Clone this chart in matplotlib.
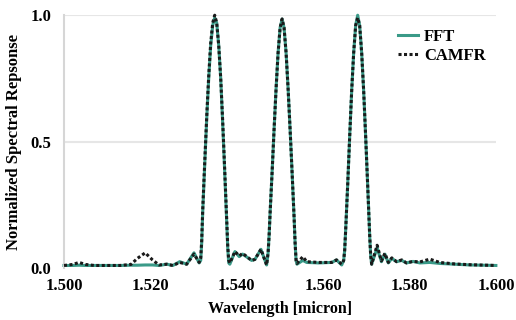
import matplotlib.pyplot as plt

# wavelength samples [micron]
wavelength = [
    1.5000, 1.5020, 1.5035, 1.5050, 1.5070, 1.5100, 1.5130, 1.5155, 1.5170, 1.5188,
    1.5205, 1.5220, 1.5238, 1.5252, 1.5268, 1.5284, 1.5301, 1.5313,
    1.53166, 1.53189, 1.53212, 1.53259, 1.53305, 1.53351, 1.53397, 1.53444, 1.53490,
    1.53536, 1.53583, 1.53629, 1.53675, 1.53721, 1.53768, 1.53791, 1.53814, 1.53840,
    1.53958, 1.54058, 1.54136, 1.54345, 1.54421, 1.54560, 1.54692,
    1.54726, 1.54750, 1.54773, 1.54819, 1.54865, 1.54911, 1.54957, 1.55004, 1.55050,
    1.55096, 1.55143, 1.55189, 1.55235, 1.55281, 1.55328, 1.55351, 1.55374, 1.55395,
    1.55530, 1.55620, 1.55900, 1.56200, 1.56310, 1.56430,
    1.56476, 1.56499, 1.56522, 1.56569, 1.56615, 1.56661, 1.56707, 1.56754, 1.56800,
    1.56846, 1.56893, 1.56939, 1.56985, 1.57031, 1.57078, 1.57101, 1.57124,
    1.57250, 1.57350, 1.57430, 1.57510, 1.57590, 1.57700, 1.57820, 1.57930, 1.58080,
    1.58240, 1.58470, 1.58700, 1.59050, 1.59400, 1.60000,
]

fft = [
    0.010, 0.010, 0.011, 0.010, 0.010, 0.010, 0.010, 0.011, 0.011, 0.012,
    0.012, 0.010, 0.015, 0.010, 0.025, 0.015, 0.060, 0.020,
    0.03, 0.10, 0.22, 0.41, 0.59, 0.75, 0.88, 0.96, 0.99,
    0.97, 0.88, 0.75, 0.57, 0.38, 0.18, 0.08, 0.02, 0.015,
    0.065, 0.045, 0.055, 0.030, 0.034, 0.074, 0.012,
    0.06, 0.13, 0.22, 0.38, 0.55, 0.71, 0.85, 0.95, 0.985,
    0.95, 0.85, 0.71, 0.55, 0.38, 0.20, 0.10, 0.03, 0.015,
    0.030, 0.022, 0.020, 0.022, 0.032, 0.012,
    0.03, 0.07, 0.15, 0.33, 0.52, 0.70, 0.85, 0.96, 1.00,
    0.96, 0.85, 0.70, 0.52, 0.33, 0.13, 0.05, 0.015,
    0.080, 0.025, 0.055, 0.020, 0.038, 0.025, 0.030, 0.020, 0.026,
    0.020, 0.022, 0.018, 0.015, 0.012, 0.010,
]

camfr = [
    0.010, 0.014, 0.022, 0.014, 0.010, 0.010, 0.010, 0.014, 0.038, 0.060,
    0.032, 0.012, 0.015, 0.010, 0.022, 0.015, 0.055, 0.022,
    0.04, 0.11, 0.23, 0.42, 0.60, 0.76, 0.89, 0.97, 1.00,
    0.97, 0.88, 0.75, 0.58, 0.39, 0.19, 0.09, 0.03, 0.02,
    0.065, 0.048, 0.058, 0.030, 0.034, 0.074, 0.012,
    0.06, 0.13, 0.22, 0.38, 0.55, 0.71, 0.85, 0.95, 0.985,
    0.95, 0.85, 0.71, 0.55, 0.38, 0.20, 0.10, 0.03, 0.018,
    0.045, 0.025, 0.022, 0.022, 0.032, 0.015,
    0.03, 0.07, 0.15, 0.33, 0.52, 0.70, 0.85, 0.96, 0.99,
    0.96, 0.85, 0.70, 0.52, 0.33, 0.13, 0.05, 0.015,
    0.090, 0.028, 0.058, 0.022, 0.040, 0.025, 0.032, 0.020, 0.026,
    0.024, 0.035, 0.022, 0.016, 0.013, 0.010,
]

x_ticks = [1.50, 1.52, 1.54, 1.56, 1.58, 1.60]
y_ticks = [0.0, 0.5, 1.0]

plt.rcParams['font.family'] = ['Liberation Serif', 'DejaVu Serif']
plt.rcParams['font.weight'] = 'bold'

fig = plt.figure(figsize=(5.16, 3.2), dpi=100)
ax = fig.add_axes([0.124, 0.1625, 0.837, 0.79])

for y in y_ticks[1:]:
    ax.axhline(y, color='#e6e6e6', lw=1.5, zorder=0)

ax.plot(wavelength, fft, color='#3a9a88', lw=2.2, label='FFT', clip_on=False, zorder=2)
ax.plot(wavelength, camfr, color='#1a1a1a', lw=2.2, ls=(0, (1.0, 0.8)), label='CAMFR',
        clip_on=False, zorder=3)

ax.set_xlim(1.5, 1.6)
ax.set_ylim(0, 1.0)
ax.set_xticks(x_ticks)
ax.set_xticklabels(['%.3f' % v for v in x_ticks])
ax.set_yticks(y_ticks)
ax.set_yticklabels(['%.1f' % v for v in y_ticks])
ax.tick_params(length=0, labelsize=12)
ax.tick_params(axis='x', pad=7)
ax.tick_params(axis='y', pad=9)

for s in ['top', 'right', 'bottom']:
    ax.spines[s].set_visible(False)
ax.spines['left'].set_color('#d6d6d6')
ax.spines['left'].set_linewidth(1.5)

ax.set_xlabel('Wavelength [micron]', fontsize=11.5, fontweight='bold', labelpad=5)
ax.set_ylabel('Normalized Spectral Repsonse', fontsize=12, fontweight='bold', labelpad=6)

leg = ax.legend(loc='upper right', bbox_to_anchor=(1.0, 0.985), frameon=False,
                fontsize=12, handlelength=1.2, handletextpad=0.4, labelspacing=0.2,
                borderaxespad=0.2)

fig.savefig('out.png', dpi=100)
